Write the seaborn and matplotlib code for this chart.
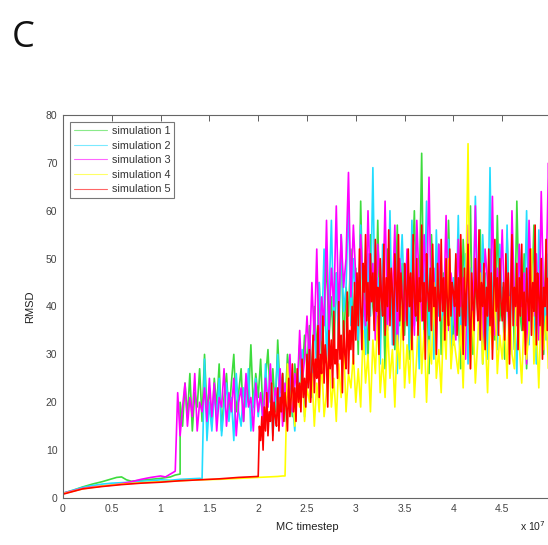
import numpy as np
import pandas as pd
import seaborn as sns
import matplotlib
matplotlib.use("Agg")
import matplotlib.pyplot as plt

# RMSD traces of five MC simulations (x in units of 1e7 MC steps)

# low phase, before the jump (time, value)
sim1_early_t = [0, 0.1, 0.2, 0.3, 0.4, 0.5, 0.55, 0.6, 0.65, 0.7, 0.8, 0.9, 1.0, 1.1, 1.15, 1.2]
sim1_early = [1.0, 1.6, 2.3, 2.9, 3.4, 4.0, 4.3, 4.4, 3.8, 3.5, 3.7, 3.9, 4.1, 4.4, 4.8, 5.0]
sim2_early_t = [0, 0.1, 0.2, 0.3, 0.4, 0.5, 0.6, 0.7, 0.8, 0.9, 1.0, 1.1, 1.2, 1.3, 1.4]
sim2_early = [1.0, 1.6, 2.2, 2.6, 2.9, 3.1, 3.2, 3.3, 3.5, 3.6, 3.8, 3.7, 3.9, 4.0, 4.1]
sim3_early_t = [0, 0.1, 0.2, 0.3, 0.4, 0.5, 0.6, 0.7, 0.8, 0.9, 1.0, 1.05, 1.1, 1.15]
sim3_early = [1.0, 1.5, 2.0, 2.3, 2.5, 2.7, 3.0, 3.4, 3.9, 4.3, 4.6, 4.4, 5.0, 5.6]
sim4_early_t = [0, 0.2, 0.4, 0.6, 0.8, 1.0, 1.2, 1.4, 1.6, 1.8, 2.0, 2.2, 2.25]
sim4_early = [0.9, 1.9, 2.5, 2.9, 3.2, 3.4, 3.6, 3.8, 3.9, 4.1, 4.3, 4.5, 4.6]
sim5_early_t = [0, 0.2, 0.4, 0.6, 0.8, 1.0, 1.2, 1.4, 1.6, 1.8, 1.9, 2.0]
sim5_early = [0.8, 1.9, 2.4, 2.8, 3.1, 3.3, 3.6, 3.8, 4.0, 4.3, 4.4, 4.5]

# high phase, sampled every `step` from the start time
sim1_start, sim1_step = 1.2, 0.025
sim1_noisy = [20, 15, 24, 17, 26, 14, 22, 19, 27, 16, 30, 18,
              23, 15, 25, 19, 28, 14, 21, 26, 17, 24, 30, 18, 22, 27, 16, 25, 20, 32, 19, 26,
              21, 29, 17, 25, 31, 20, 27, 18, 33, 22, 26, 19, 30, 24, 17, 28, 22, 32, 25, 34,
              27, 36, 24, 40, 30, 45, 28, 38, 50, 33, 42, 29, 47, 36, 55, 31, 44, 38, 52, 35,
              48, 30, 62, 38, 45, 28, 55, 40, 35, 58, 33, 46, 27, 52, 39, 44, 31, 57, 36, 49,
              34, 51, 29, 45, 60, 37, 42, 72, 33, 48, 26, 55, 41, 38, 53, 30, 47, 35, 58, 40,
              32, 50, 38, 27, 54, 43, 36, 61, 30, 45, 39, 56, 28, 47, 35, 52, 41, 33, 59, 37,
              44, 29, 55, 38, 48, 31, 62, 40, 35, 51, 27, 46, 39, 57, 33, 43, 50, 30, 54, 36, 45]
sim2_start, sim2_step = 1.425, 0.025
sim2_noisy = [4, 29, 12, 20,
              14, 22, 17, 25, 13, 19, 24, 16, 21, 12, 26, 18, 15, 23, 19, 27, 14, 20, 25, 17,
              22, 15, 28, 19, 24, 13, 21, 30, 18, 25, 16, 23, 29, 20, 14, 26, 22, 31, 17, 24,
              30, 21, 38, 26, 45, 33, 52, 29, 41, 58, 35, 47, 31, 55, 39, 44, 62, 36, 50, 40,
              33, 57, 42, 30, 51, 38, 69, 35, 46, 28, 53, 41, 37, 60, 32, 48, 26, 44, 55, 39,
              47, 31, 58, 36, 43, 27, 52, 40, 62, 34, 45, 29, 56, 38, 49, 33, 41, 54, 30, 46,
              37, 59, 32, 44, 51, 28, 48, 36, 63, 40, 33, 55, 43, 29, 69, 38, 46, 31, 53, 42,
              35, 57, 30, 47, 39, 26, 52, 44, 36, 60, 32, 49, 41, 28, 56, 37, 45, 33, 51, 40]
sim3_start, sim3_step = 1.175, 0.025
sim3_noisy = [22, 13, 19, 24, 15, 21, 17, 26, 14, 20, 18, 23, 16, 25,
              17, 24, 14, 21, 19, 27, 15, 22, 18, 25, 13, 20, 23, 16, 26, 19, 21, 14, 24, 18,
              22, 16, 25, 19, 28, 17, 23, 20, 27, 15, 24, 21, 30, 18, 26, 22, 35, 24, 29, 38,
              28, 45, 33, 52, 30, 42, 36, 58, 34, 48, 40, 61, 38, 55, 44, 50, 68, 42, 57, 46,
              38, 55, 44, 36, 60, 41, 49, 33, 53, 45, 39, 62, 35, 47, 42, 57, 31, 50, 43, 37,
              52, 40, 46, 34, 58, 44, 37, 55, 41, 67, 36, 48, 30, 53, 43, 39, 59, 35, 47, 42,
              33, 54, 40, 46, 29, 57, 43, 36, 61, 38, 49, 32, 52, 45, 37, 63, 34, 48, 41, 56,
              39, 45, 31, 60, 42, 36, 53, 40, 47, 28, 58, 44, 38, 51, 33, 64, 41, 46, 70, 43]
sim4_start, sim4_step = 2.275, 0.025
sim4_noisy = [4.6, 28, 18, 24, 15, 22, 19, 27, 16, 23,
              20, 26, 15, 24, 18, 29, 17, 22, 31, 19, 25, 16, 28, 21, 33, 18, 26, 23, 30, 20,
              27, 19, 35, 24, 30, 18, 33, 26, 38, 22, 29, 21, 36, 25, 31, 19, 34, 27, 40, 23,
              32, 24, 37, 21, 30, 42, 26, 35, 20, 33, 28, 45, 25, 31, 22, 38, 29, 50, 27, 34,
              30, 26, 36, 23, 41, 74, 27, 39, 24, 33, 47, 28, 35, 22, 38, 31, 44, 26, 34, 29,
              37, 25, 42, 30, 27, 48, 32, 24, 39, 29, 35, 52, 28, 36, 23, 41, 31, 38, 27, 44]
sim5_start, sim5_step = 2.0125, 0.0125
sim5_noisy = [15, 12, 17, 10, 19, 14, 22, 13, 18, 16, 24, 12, 20, 17, 15, 23, 14, 21, 18, 26,
              16, 22, 19, 14, 25, 17, 21, 28, 18, 23, 16, 27, 20, 24, 18, 29, 21, 25, 19, 30,
              23, 31, 20, 27, 34, 22, 29, 25, 36, 21, 30, 26, 38, 24, 32, 28, 19, 35, 27, 33,
              23, 39, 28, 31, 25, 41, 29, 34, 22, 37, 30, 27, 43, 26, 35, 31, 40, 28, 45, 33,
              47, 36, 52, 40, 31, 49, 43, 55, 37, 45, 33, 51, 41, 47, 35, 54, 39, 44, 30, 50,
              42, 38, 53, 34, 46, 40, 56, 36, 48, 43, 32, 51, 45, 39, 55, 37, 47, 41, 33, 49,
              44, 36, 52, 40, 47, 31, 55, 42, 38, 50, 34, 46, 41, 57, 37, 45, 29, 51, 43, 39,
              48, 35, 53, 40, 44, 30, 49, 42, 37, 54, 39, 46, 33, 50, 41, 36, 52, 38, 45, 43,
              40, 51, 34, 46, 38, 55, 42, 30, 48, 36, 44, 53, 39, 27, 47, 41, 35, 50, 43, 37,
              56, 33, 45, 40, 49, 31, 44, 38, 52, 36, 47, 29, 42, 54, 39, 46, 34, 50, 41, 37,
              45, 33, 51, 39, 47, 28, 42, 55, 36, 44, 40, 49, 31, 46, 38, 53, 35, 43, 30, 48,
              41, 37, 52, 34, 45, 39, 57, 32, 47, 42, 36, 50, 29, 44, 40, 54, 35, 46, 38, 42]

names = ["simulation 1", "simulation 2", "simulation 3", "simulation 4", "simulation 5"]
colors = ["#3ddc3d", "#22ddff", "#ff00ff", "#ffff00", "#ff0000"]

series = [
    (sim1_early_t, sim1_early, sim1_start, sim1_step, sim1_noisy),
    (sim2_early_t, sim2_early, sim2_start, sim2_step, sim2_noisy),
    (sim3_early_t, sim3_early, sim3_start, sim3_step, sim3_noisy),
    (sim4_early_t, sim4_early, sim4_start, sim4_step, sim4_noisy),
    (sim5_early_t, sim5_early, sim5_start, sim5_step, sim5_noisy),
]

frames = []
for name, (et, ev, start, st, nv) in zip(names, series):
    t = list(et) + list(start + st * np.arange(len(nv)))
    frames.append(pd.DataFrame({"t": t, "rmsd": list(ev) + list(nv), "sim": name}))
df = pd.concat(frames, ignore_index=True)

sns.set_style("white")
plt.rcParams["font.family"] = ["Liberation Sans", "DejaVu Sans"]

fig = plt.figure(figsize=(5.48, 5.45), dpi=100)
ax = fig.add_axes([63 / 548, 47 / 545, 488 / 548, 383 / 545])

for name, c in zip(names, colors):
    sub = df[df["sim"] == name]
    sns.lineplot(data=sub, x="t", y="rmsd", color=c, lw=1.2, ax=ax,
                 estimator=None, sort=False, label=name)

ax.set_xlim(0, 5)
ax.set_ylim(0, 80)
ax.set_xticks(np.arange(0, 4.51, 0.5))
ax.set_xticklabels(["0", "0.5", "1", "1.5", "2", "2.5", "3", "3.5", "4", "4.5"])
ax.set_yticks(range(0, 81, 10))
ax.tick_params(direction="in", length=4, width=0.6, colors="#444444",
               labelsize=7.5, top=True, right=False, pad=4)
for s in ax.spines.values():
    s.set_color("#666666")
    s.set_linewidth(0.8)
ax.set_xlabel("MC timestep", fontsize=8, color="#222222", labelpad=6)
ax.set_ylabel("RMSD", fontsize=8, color="#222222", labelpad=8)

leg = ax.legend(loc="upper left", bbox_to_anchor=(0.004, 0.995), fontsize=7.8,
                frameon=True, fancybox=False, framealpha=1, edgecolor="#777777",
                handlelength=3.0, labelspacing=0.42, borderpad=0.35, handletextpad=0.5)
leg.get_frame().set_linewidth(0.8)
for line in leg.get_lines():
    line.set_linewidth(0.8)
    line.set_alpha(0.6)
for txt in leg.get_texts():
    txt.set_color("#333333")

fig.text(546 / 548, 1 - 531 / 545, "x 10$^7$", fontsize=7.5, color="#222222", ha="right")
fig.text(12 / 548, 1 - 47 / 545, "C", fontsize=26, family="Open Sans", color="#111111")

fig.savefig("out.png", dpi=100)
